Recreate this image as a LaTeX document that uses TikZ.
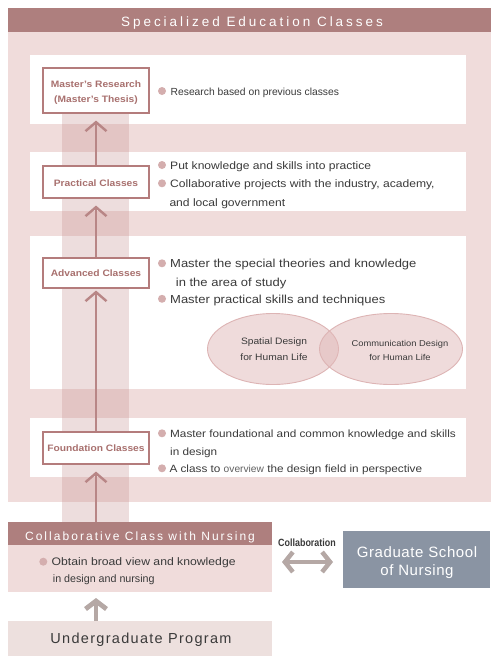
\documentclass[tikz,border=0pt]{standalone}
\usepackage{fontspec}
\setmainfont{Liberation Sans}
\newfontfamily\bodyf[FakeStretch=1.12]{Liberation Sans}
\newfontfamily\labf[FakeStretch=1.1]{Liberation Sans}
\newfontfamily\narf[FakeStretch=0.85]{Liberation Sans}
\newfontfamily\headf[LetterSpace=22]{Liberation Sans}
\newfontfamily\collf[LetterSpace=17]{Liberation Sans}
\newfontfamily\ugf[LetterSpace=9]{Liberation Sans}
\newfontfamily\gsf[LetterSpace=4]{Liberation Sans}
\usetikzlibrary{arrows.meta,calc,shapes.geometric}
\definecolor{bgpink}{HTML}{F0DCDB}
\definecolor{mauve}{HTML}{AE7F7E}
\definecolor{labborder}{HTML}{B47C7C}
\definecolor{labtext}{HTML}{A8706E}
\definecolor{arrowc}{HTML}{B88686}
\definecolor{bulc}{HTML}{D4AEAE}
\definecolor{txt}{HTML}{3A3A3A}
\definecolor{ugfill}{HTML}{EDE0DE}
\definecolor{gsfill}{HTML}{8A94A3}
\definecolor{grayarrow}{HTML}{B5A8A5}
\definecolor{bandc}{HTML}{C89696}
\definecolor{ellc}{HTML}{E1B9B9}
\definecolor{ellborder}{HTML}{DDB4B4}
\begin{document}
\begin{tikzpicture}[x=1pt,y=-1pt,
  boxx/.style={anchor=north west,inner sep=0,outer sep=0,draw=none},
  labbox/.style={draw=labborder,line width=1.1pt,fill=white,minimum width=106,inner sep=0,text=labtext},
  labline/.style={inner sep=0,anchor=base,text=labtext,font=\labf\bfseries\fontsize{9.3}{11}\selectfont},
  bul/.style={circle,fill=bulc,minimum size=8,inner sep=0},
  tline/.style={inner sep=0,anchor=base west,text=txt},
  uparrow/.style={draw=arrowc,line width=2.4pt,-{Straight Barb[length=9pt,width=21pt]}},
  ell/.style={ellipse,draw=ellborder,line width=0.9pt,fill=ellc,fill opacity=0.5,inner sep=0},
  etext/.style={inner sep=0,anchor=base,text=txt}
]
\useasboundingbox (0,0) rectangle (500,665);
\fill[white] (0,0) rectangle (500,665);

% Specialized education classes background
\node[boxx,fill=bgpink,minimum width=483,minimum height=494] (SEC) at (8,8) {};
\node[boxx,fill=mauve,minimum width=483,minimum height=24] (SH) at (8,8) {};
\node[inner sep=0,anchor=base,text=white,font=\headf\fontsize{13.5}{16}\selectfont] (SHt) at (252,26.7) {Specialized Education Classes};

% white rows
\node[boxx,fill=white,minimum width=436,minimum height=69] (W1) at (30,55) {};
\node[boxx,fill=white,minimum width=436,minimum height=59] (W2) at (30,152) {};
\node[boxx,fill=white,minimum width=436,minimum height=153] (W3) at (30,236) {};
\node[boxx,fill=white,minimum width=436,minimum height=59] (W4) at (30,418) {};

% vertical band
\fill[bandc,opacity=0.32] (62,113) rectangle (129,522);

% ellipses
\node[ell,minimum width=131,minimum height=71] (E1) at (273,349) {};
\node[ell,minimum width=143,minimum height=71] (E2) at (391,349) {};
\node[etext,font=\labf\fontsize{9.3}{11}\selectfont] (E1a) at (274,344) {Spatial Design};
\node[etext,font=\labf\fontsize{9.3}{11}\selectfont] (E1b) at (274,360) {for Human Life};
\node[etext,font=\labf\fontsize{8.5}{10}\selectfont] (E2a) at (400,346.7) {Communication Design};
\node[etext,font=\labf\fontsize{8.5}{10}\selectfont] (E2b) at (400,360) {for Human Life};

% label boxes
\node[labbox,minimum height=45] (L1) at (96,90.5) {};
\node[labline] (L1a) at (96,87.3) {Master’s Research};
\node[labline] (L1b) at (96,102.7) {(Master’s Thesis)};
\node[labbox,minimum height=32] (L2) at (96,182) {};
\node[labline] (L2a) at (96,186.7) {Practical Classes};
\node[labbox,minimum height=30] (L3) at (96,273) {};
\node[labline] (L3a) at (96,276.7) {Advanced Classes};
\node[labbox,minimum height=32] (L4) at (96,448) {};
\node[labline] (L4a) at (96,451.7) {Foundation Classes};

% collaborative class with nursing
\node[boxx,fill=mauve,minimum width=264,minimum height=23] (CH) at (8,522) {};
\node[inner sep=0,anchor=base,text=white,font=\collf\fontsize{12}{14}\selectfont] (CHt) at (140,540) {Collaborative Class with Nursing};
\node[boxx,fill=bgpink,minimum width=264,minimum height=47] (CB) at (8,545) {};

% undergraduate
\node[boxx,fill=ugfill,minimum width=264,minimum height=35] (UG) at (8,621) {};
\node[inner sep=0,anchor=base,text=txt,font=\ugf\fontsize{14.5}{17}\selectfont] (UGt) at (141,643.3) {Undergraduate Program};

% graduate school of nursing
\node[boxx,fill=gsfill,minimum width=147,minimum height=57] (GS) at (343,531) {};
\node[inner sep=0,anchor=base,text=white,font=\gsf\fontsize{15}{18}\selectfont] (GSa) at (417,557.3) {Graduate School};
\node[inner sep=0,anchor=base,text=white,font=\gsf\fontsize{15}{18}\selectfont] (GSb) at (417,575) {of Nursing};

% arrows
\draw[uparrow] (L2.north) -- ($(L1.south)+(0,7)$);
\draw[uparrow] (L3.north) -- ($(L2.south)+(0,7)$);
\draw[uparrow] (L4.north) -- ($(L3.south)+(0,2)$);
\draw[uparrow] (L4.south |- CH.north) -- ($(L4.south)+(0,7)$);
\draw[draw=grayarrow,line width=4.8pt,-{Straight Barb[length=8pt,width=21pt]}] (L4.south |- UG.north) -- ($(L4.south |- CB.south)+(0,6)$);
\draw[draw=grayarrow,line width=4.5pt,{Straight Barb[length=8pt,width=20pt]}-{Straight Barb[length=8pt,width=20pt]}] ($(CB.north east)+(10,17)$) -- ($(GS.north west)+(-10,31)$);
\node[inner sep=0,anchor=base,text=txt,font=\narf\bfseries\fontsize{10.5}{12}\selectfont] (COL) at (307,546) {Collaboration};

% texts row 1
\node[bul] (b11) at (162,91) {};
\node[tline,font=\fontsize{10.3}{12}\selectfont] (t11) at (170.5,95) {Research based on previous classes};
% row 2
\node[bul] (b21) at (162,165) {};
\node[tline,font=\bodyf\fontsize{10.8}{13}\selectfont] (t21) at (170,169) {Put knowledge and skills into practice};
\node[bul] (b22) at (162,183.3) {};
\node[tline,font=\bodyf\fontsize{10.8}{13}\selectfont] (t22) at (170,187.3) {Collaborative projects with the industry, academy,};
\node[tline,font=\bodyf\fontsize{10.8}{13}\selectfont] (t23) at (169.3,206) {and local government};
% row 3
\node[bul] (b31) at (162,263.3) {};
\node[tline,font=\bodyf\fontsize{11.6}{14}\selectfont] (t31) at (170,267.7) {Master the special theories and knowledge};
\node[tline,font=\bodyf\fontsize{11.6}{14}\selectfont] (t32) at (175.7,286) {in the area of study};
\node[bul] (b32) at (162,298.8) {};
\node[tline,font=\bodyf\fontsize{11.6}{14}\selectfont] (t33) at (170,303.3) {Master practical skills and techniques};
% row 4
\node[bul] (b41) at (162,433.3) {};
\node[tline,font=\bodyf\fontsize{10.5}{13}\selectfont] (t41) at (170,437.3) {Master foundational and common knowledge and skills};
\node[tline,font=\bodyf\fontsize{10.5}{13}\selectfont] (t42) at (170,455.7) {in design};
\node[bul] (b42) at (162,468.3) {};
\node[tline,font=\bodyf\fontsize{10.5}{13}\selectfont] (t43) at (169.3,472.3) {A class to {\normalfont\fontsize{10.2}{13}\selectfont\color{txt!80}overview} the design field in perspective};
% collab body
\node[bul] (b51) at (43.3,561.7) {};
\node[tline,font=\bodyf\fontsize{10.9}{13}\selectfont] (t51) at (51.5,565.7) {Obtain broad view and knowledge};
\node[tline,font=\fontsize{10.7}{13}\selectfont] (t52) at (52.7,582.7) {in design and nursing};
\end{tikzpicture}
\end{document}
